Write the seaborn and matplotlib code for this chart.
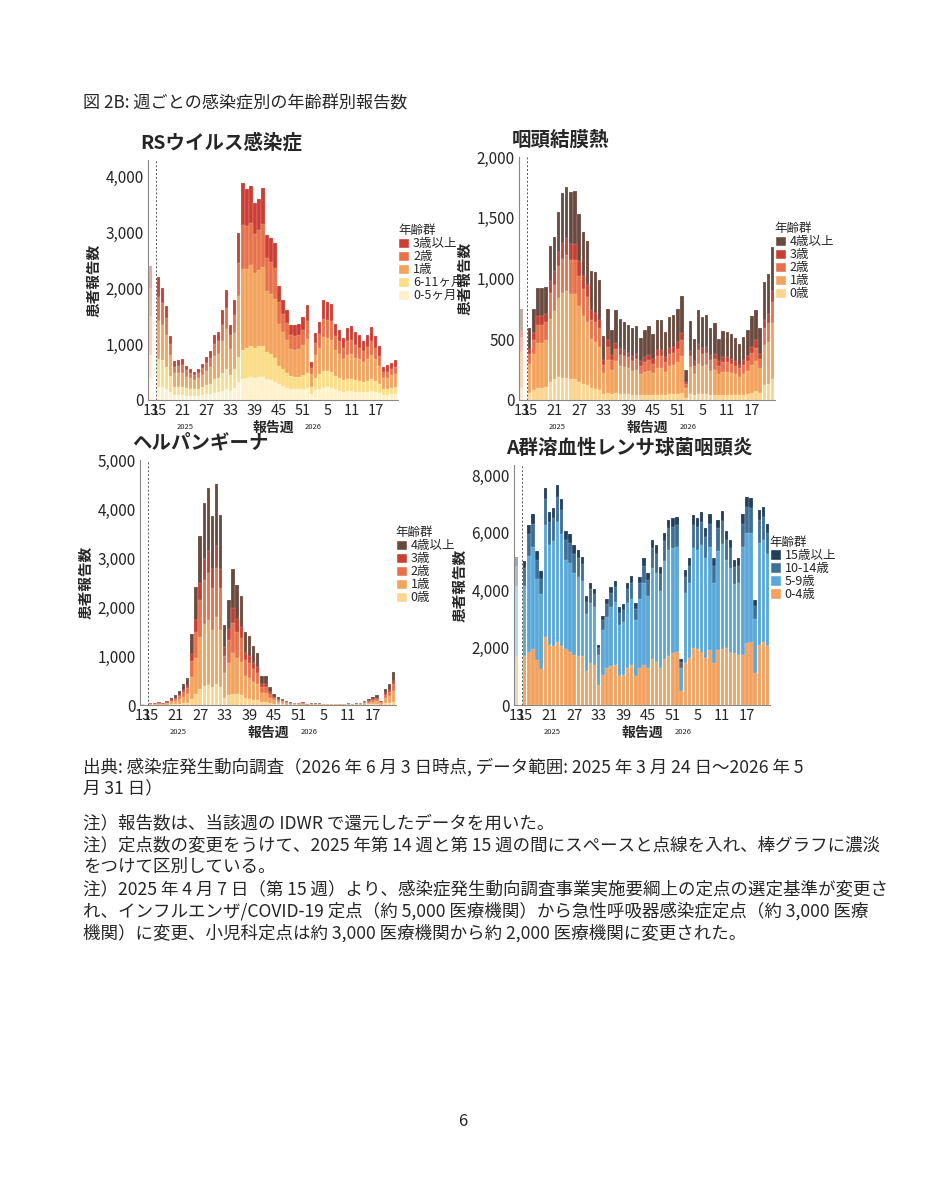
import matplotlib
matplotlib.use("Agg")
import matplotlib.pyplot as plt
import matplotlib.colors as mcolors
from matplotlib.patches import Patch
import numpy as np
import pandas as pd
import seaborn as sns

# 週: 2025年第13週, (空き), 2025年第15-52週, 2026年第1-22週
weeks_2025 = [13] + list(range(15, 53))
weeks_2026 = list(range(1, 23))
tick_labels = ["13", "15", "21", "27", "33", "39", "45", "51", "5", "11", "17"]

# RSウイルス感染症
rs_total = [2400, 2200, 2000, 1680, 1150, 700, 710, 730, 610, 560, 510, 560, 650, 770, 880, 1170, 1220, 1620, 1970, 1350, 1790,
            3000, 3880, 3780, 3830, 3530, 3610, 3800, 2950, 2900, 2820, 2050, 1800, 1620, 1350, 1350, 1370, 1480, 1700,
            680, 1200, 1400, 1790, 1750, 1720, 1360, 1260, 1110, 1290, 1330, 1220, 1160, 1060, 1170, 1300, 1150, 960, 600, 620, 670, 710]
rs_0_5m = [400, 240, 230, 200, 150, 90, 90, 90, 80, 80, 80, 80, 90, 100, 110, 130, 140, 170, 200, 160, 220, 320, 380, 400, 410, 400, 420, 420,
           380, 360, 330, 280, 250, 220, 200, 190, 190, 200, 210,
           110, 180, 200, 220, 230, 220, 190, 170, 150, 160, 160, 150, 150, 140, 150, 160, 150, 130, 90, 90, 100, 100]
rs_6_11m = [400, 500, 480, 400, 280, 150, 150, 150, 130, 120, 110, 120, 140, 160, 180, 240, 250, 320, 350, 280, 340, 450, 520, 530, 550, 540,
            550, 540, 480, 460, 430, 330, 300, 270, 230, 230, 230, 250, 270,
            130, 220, 260, 300, 290, 280, 240, 220, 200, 210, 210, 200, 190, 180, 190, 210, 190, 160, 110, 110, 120, 130]
rs_1y = [700, 680, 640, 560, 380, 240, 240, 250, 210, 190, 170, 190, 220, 260, 300, 410, 430, 560, 720, 480, 640, 1100, 1450, 1420, 1450,
         1330, 1360, 1420, 1100, 1080, 1050, 760, 660, 590, 480, 480, 490, 530, 620,
         230, 400, 470, 600, 590, 580, 460, 430, 380, 440, 450, 410, 390, 360, 400, 440, 390, 320, 200, 200, 220, 240]
rs_2y = [500, 420, 380, 310, 200, 120, 130, 130, 110, 100, 90, 100, 120, 140, 160, 220, 230, 300, 370, 250, 330, 590, 790, 760, 770, 700,
         720, 770, 580, 570, 560, 390, 330, 300, 250, 250, 250, 270, 320,
         110, 220, 260, 340, 330, 330, 250, 230, 200, 240, 250, 230, 210, 190, 210, 240, 210, 170, 110, 110, 120, 130]

# 咽頭結膜熱
pcf_total = [750, 590, 750, 920, 920, 930, 1270, 1340, 1550, 1700, 1750, 1710, 1720, 1530, 1380, 1310, 1060, 1050, 990, 530, 750,
             580, 740, 670, 640, 620, 590, 610, 510, 580, 610, 540, 660, 660, 560, 680, 700, 750, 860,
             250, 650, 500, 740, 680, 700, 590, 630, 500, 570, 560, 540, 510, 460, 520, 580, 690, 740, 590, 970, 1040, 1260]
pcf_0 = [100, 60, 80, 100, 100, 110, 150, 170, 190, 180, 180, 170, 170, 150, 130, 120, 100, 90, 80, 50, 60, 50, 60, 50, 50, 50, 40, 40,
         40, 40, 40, 40, 40, 40, 40, 50, 50, 50, 60,
         20, 50, 40, 50, 50, 50, 40, 40, 40, 40, 40, 40, 40, 40, 40, 50, 60, 70, 60, 120, 130, 170]
pcf_1 = [300, 240, 300, 370, 370, 380, 520, 560, 650, 700, 720, 700, 700, 620, 560, 520, 400, 390, 360, 170, 270, 200, 260, 230, 220,
         210, 200, 210, 170, 190, 200, 180, 220, 220, 190, 230, 240, 260, 300,
         80, 220, 170, 250, 230, 240, 200, 210, 170, 190, 190, 180, 170, 150, 170, 190, 230, 250, 200, 330, 350, 460]
pcf_2 = [120, 80, 110, 150, 150, 150, 210, 220, 260, 280, 290, 280, 280, 250, 220, 210, 160, 160, 150, 70, 110, 80, 100, 90, 90, 90, 80,
         90, 70, 80, 90, 80, 100, 100, 80, 100, 100, 110, 130,
         30, 90, 70, 110, 100, 100, 90, 90, 70, 80, 80, 80, 70, 70, 80, 80, 100, 110, 80, 140, 150, 180]
pcf_3 = [60, 40, 60, 70, 70, 70, 100, 110, 120, 130, 140, 130, 130, 120, 110, 100, 80, 80, 70, 40, 50, 40, 50, 50, 50, 40, 40, 40, 40,
         40, 40, 40, 50, 50, 40, 50, 50, 60, 60,
         20, 40, 40, 50, 50, 50, 40, 40, 40, 40, 40, 40, 40, 30, 40, 40, 50, 60, 40, 70, 80, 90]

# ヘルパンギーナ
hp_total = [30, 40, 50, 60, 50, 80, 150, 200, 290, 430, 560, 1450, 2400, 3450, 4130, 4420, 3850, 4520, 3870, 1640, 2150,
            2780, 2450, 2230, 1500, 1400, 1200, 1070, 590, 590, 360, 220, 160, 130, 80, 60, 50, 50, 60,
            20, 40, 40, 40, 30, 30, 30, 30, 30, 30, 40, 30, 40, 50, 90, 120, 160, 200, 90, 330, 430, 680]
hp_0 = [5, 5, 5, 5, 5, 10, 15, 20, 30, 40, 50, 130, 220, 330, 380, 400, 370, 420, 360, 150, 200, 230, 220, 200, 140, 130, 110, 100, 60,
        60, 40, 25, 20, 15, 10, 8, 6, 6, 8,
        3, 5, 5, 5, 4, 4, 4, 4, 4, 4, 5, 4, 5, 6, 10, 14, 18, 22, 10, 35, 45, 70]
hp_1 = [10, 15, 15, 20, 15, 25, 45, 60, 90, 130, 170, 450, 740, 1050, 1270, 1330, 1170, 1380, 1180, 500, 650, 830, 740, 670, 450, 420,
        360, 320, 180, 180, 110, 70, 50, 40, 25, 20, 15, 15, 20,
        6, 12, 12, 12, 9, 9, 9, 9, 9, 9, 12, 9, 12, 15, 28, 36, 48, 60, 27, 100, 130, 210]
hp_2 = [6, 8, 10, 12, 10, 15, 30, 40, 60, 90, 120, 320, 530, 760, 900, 970, 850, 990, 850, 360, 480, 620, 540, 490, 330, 310, 260, 240,
        130, 130, 80, 50, 35, 30, 18, 14, 12, 12, 14,
        5, 9, 9, 9, 7, 7, 7, 7, 7, 7, 9, 7, 9, 11, 20, 27, 36, 45, 20, 75, 95, 150]
hp_3 = [3, 4, 5, 6, 5, 8, 15, 20, 30, 45, 55, 150, 240, 350, 420, 450, 390, 460, 390, 170, 220, 290, 250, 230, 150, 140, 120, 110, 60,
        60, 40, 22, 16, 13, 8, 6, 5, 5, 6,
        2, 4, 4, 4, 3, 3, 3, 3, 3, 3, 4, 3, 4, 5, 9, 12, 16, 20, 9, 33, 43, 68]

# A群溶血性レンサ球菌咽頭炎
gas_total = [5150, 5000, 6250, 6650, 5350, 4650, 7550, 6700, 6850, 7650, 7150, 6050, 5950, 5550, 5400, 5150, 3800, 4250, 4050, 2100, 3100,
             3700, 4100, 4300, 3400, 3500, 4250, 4500, 3550, 4450, 5100, 4600, 5750, 5550, 4800, 6000, 6450, 6500, 6550,
             1600, 4700, 5100, 6600, 6500, 6700, 6150, 6650, 5100, 6450, 6750, 6050, 5750, 5050, 5100, 6650, 7250, 7200, 3650, 6800, 6900, 6300]
gas_0_4 = [1700, 1700, 1850, 1950, 1550, 1250, 2350, 2100, 2050, 2200, 2050, 1950, 1850, 1750, 1700, 1700, 1200, 1450, 1400, 700, 1050,
           1300, 1350, 1400, 1000, 1050, 1300, 1400, 1000, 1300, 1400, 1300, 1600, 1500, 1300, 1600, 1700, 1800, 1850,
           500, 1450, 1650, 2000, 1950, 1850, 1650, 1900, 1450, 1900, 1950, 2000, 1800, 1800, 1750, 1750, 2150, 2200, 1100, 2100, 2200, 2050]
gas_10_14 = [700, 600, 750, 800, 650, 550, 900, 800, 800, 900, 850, 700, 700, 650, 650, 600, 450, 500, 450, 250, 350, 450, 500, 500, 400,
             400, 500, 550, 400, 550, 600, 550, 700, 650, 600, 700, 750, 750, 750,
             200, 550, 600, 800, 800, 800, 750, 800, 600, 800, 800, 700, 700, 600, 600, 800, 900, 850, 450, 800, 800, 750]
gas_15 = [300, 250, 300, 350, 300, 250, 400, 350, 350, 400, 350, 300, 300, 300, 300, 250, 200, 200, 200, 100, 150, 200, 200, 200, 200,
          200, 200, 250, 200, 200, 250, 250, 300, 300, 250, 300, 300, 300, 300,
          100, 250, 250, 350, 300, 350, 300, 350, 250, 300, 350, 300, 300, 250, 250, 350, 350, 350, 200, 350, 350, 300]


def rest(total, *parts):
    return [t - sum(p) for t, *p in zip(total, *parts)]


warm5 = ["#FFF1C9", "#FBDD85", "#F4A25C", "#E8704A", "#CC3D33"]
warm_b = ["#FBD48E", "#F3A35E", "#E8714B", "#C63F33", "#6A4A3F"]
cool = ["#F2A15F", "#5AA7DA", "#3E6F96", "#233F5C"]

panels = [
    dict(title="RSウイルス感染症", ymax=4300, ticks=[0, 1000, 2000, 3000, 4000],
         layers=[rs_0_5m, rs_6_11m, rs_1y, rs_2y, rest(rs_total, rs_0_5m, rs_6_11m, rs_1y, rs_2y)],
         labels=["0-5ヶ月", "6-11ヶ月", "1歳", "2歳", "3歳以上"], colors=warm5,
         rect=[148 / 927, 1 - 400 / 1200, 250 / 927, 240 / 1200]),
    dict(title="咽頭結膜熱", ymax=2000, ticks=[0, 500, 1000, 1500, 2000],
         layers=[pcf_0, pcf_1, pcf_2, pcf_3, rest(pcf_total, pcf_0, pcf_1, pcf_2, pcf_3)],
         labels=["0歳", "1歳", "2歳", "3歳", "4歳以上"], colors=warm_b,
         rect=[519 / 927, 1 - 400 / 1200, 256 / 927, 243 / 1200]),
    dict(title="ヘルパンギーナ", ymax=5000, ticks=[0, 1000, 2000, 3000, 4000, 5000],
         layers=[hp_0, hp_1, hp_2, hp_3, rest(hp_total, hp_0, hp_1, hp_2, hp_3)],
         labels=["0歳", "1歳", "2歳", "3歳", "4歳以上"], colors=warm_b,
         rect=[140 / 927, 1 - 705 / 1200, 256 / 927, 245 / 1200]),
    dict(title="A群溶血性レンサ球菌咽頭炎", ymax=8350, ticks=[0, 2000, 4000, 6000, 8000],
         layers=[gas_0_4, rest(gas_total, gas_0_4, gas_10_14, gas_15), gas_10_14, gas_15],
         labels=["0-4歳", "5-9歳", "10-14歳", "15歳以上"], colors=cool,
         rect=[514 / 927, 1 - 705 / 1200, 256 / 927, 240 / 1200]),
]

# x 位置: 第13週=0, 第15週=2 以降は連続
pos = [0] + list(range(2, 2 + len(weeks_2025) - 1 + len(weeks_2026)))
week_names = [str(w) for w in weeks_2025] + [str(w) for w in weeks_2026]
tick_pos = [pos[week_names.index(t)] if t not in ("5", "11", "17") else pos[len(weeks_2025) + int(t) - 1] for t in tick_labels]

sns.set_style("white")
plt.rcParams["font.family"] = ["Noto Sans CJK JP", "DejaVu Sans"]

fig = plt.figure(figsize=(9.27, 12), dpi=100)
fig.text(83 / 927, 1 - 103 / 1200, "図 2B: 週ごとの感染症別の年齢群別報告数", fontsize=12.3, va="center")

for p in panels:
    ax = fig.add_axes(p["rect"])
    cum = np.cumsum(np.array(p["layers"], dtype=float), axis=0)
    # 上の層から描き、下の層を重ねる
    for i in range(len(p["layers"]) - 1, -1, -1):
        df = pd.DataFrame({"x": pos, "y": cum[i]})
        sns.barplot(data=df, x="x", y="y", native_scale=True, color=p["colors"][i],
                    width=0.82, edgecolor="#ffffff99", linewidth=0.2, saturation=1, ax=ax)
    for bar in ax.patches:
        if bar.get_x() + bar.get_width() / 2 < 0.5:
            rgb = np.array(mcolors.to_rgb(bar.get_facecolor()))
            bar.set_facecolor(rgb * 0.45 + 0.55)
            bar.set_edgecolor("none")
    ax.axvline(1.35, color="#555555", ls=(0, (2, 2)), lw=0.7)
    ax.set_xlim(-0.6, pos[-1] + 0.6)
    ax.set_ylim(0, p["ymax"])
    ax.set_yticks(p["ticks"])
    ax.set_yticklabels([f"{t:,}" for t in p["ticks"]], fontsize=11)
    ax.set_xticks(tick_pos)
    ax.set_xticklabels(tick_labels, fontsize=10.5)
    ax.tick_params(axis="both", length=2, pad=1, color="#888888")
    for s in ["top", "right"]:
        ax.spines[s].set_visible(False)
    ax.spines["left"].set_color("#888888")
    ax.spines["bottom"].set_color("#888888")
    ax.set_xlabel("")
    ax.set_ylabel("患者報告数", fontsize=10.5, fontweight="bold", labelpad=3)
    ax.text(-0.03, 1.03, p["title"], transform=ax.transAxes, fontsize=14,
            fontweight="bold", ha="left", va="bottom")
    ax.text(0.5, -0.085, "報告週", transform=ax.transAxes, fontsize=10,
            fontweight="bold", ha="center", va="top")
    ax.text(0.15, -0.095, "2025", transform=ax.transAxes, fontsize=5.5, ha="center", va="top")
    ax.text(0.66, -0.095, "2026", transform=ax.transAxes, fontsize=5.5, ha="center", va="top")
    handles = [Patch(facecolor=c, label=l) for c, l in zip(p["colors"], p["labels"])][::-1]
    ax.legend(handles=handles, title="年齢群", loc="center left", bbox_to_anchor=(0.97, 0.57),
              frameon=False, fontsize=9, title_fontsize=9, handlelength=0.9, handleheight=0.9,
              labelspacing=0.0, handletextpad=0.3, borderaxespad=0.2, alignment="left")

notes = [
    (767, "出典: 感染症発生動向調査（2026 年 6 月 3 日時点, データ範囲: 2025 年 3 月 24 日～2026 年 5"),
    (789, "月 31 日）"),
    (823, "注）報告数は、当該週の IDWR で還元したデータを用いた。"),
    (845, "注）定点数の変更をうけて、2025 年第 14 週と第 15 週の間にスペースと点線を入れ、棒グラフに濃淡"),
    (867, "をつけて区別している。"),
    (889, "注）2025 年 4 月 7 日（第 15 週）より、感染症発生動向調査事業実施要綱上の定点の選定基準が変更さ"),
    (911, "れ、インフルエンザ/COVID-19 定点（約 5,000 医療機関）から急性呼吸器感染症定点（約 3,000 医療"),
    (933, "機関）に変更、小児科定点は約 3,000 医療機関から約 2,000 医療機関に変更された。"),
]
for y, t in notes:
    fig.text(83 / 927, 1 - y / 1200, t, fontsize=12.6, va="center")
fig.text(463 / 927, 1 - 1122 / 1200, "6", fontsize=12, ha="center", va="center")

fig.savefig("out.png", dpi=100)
